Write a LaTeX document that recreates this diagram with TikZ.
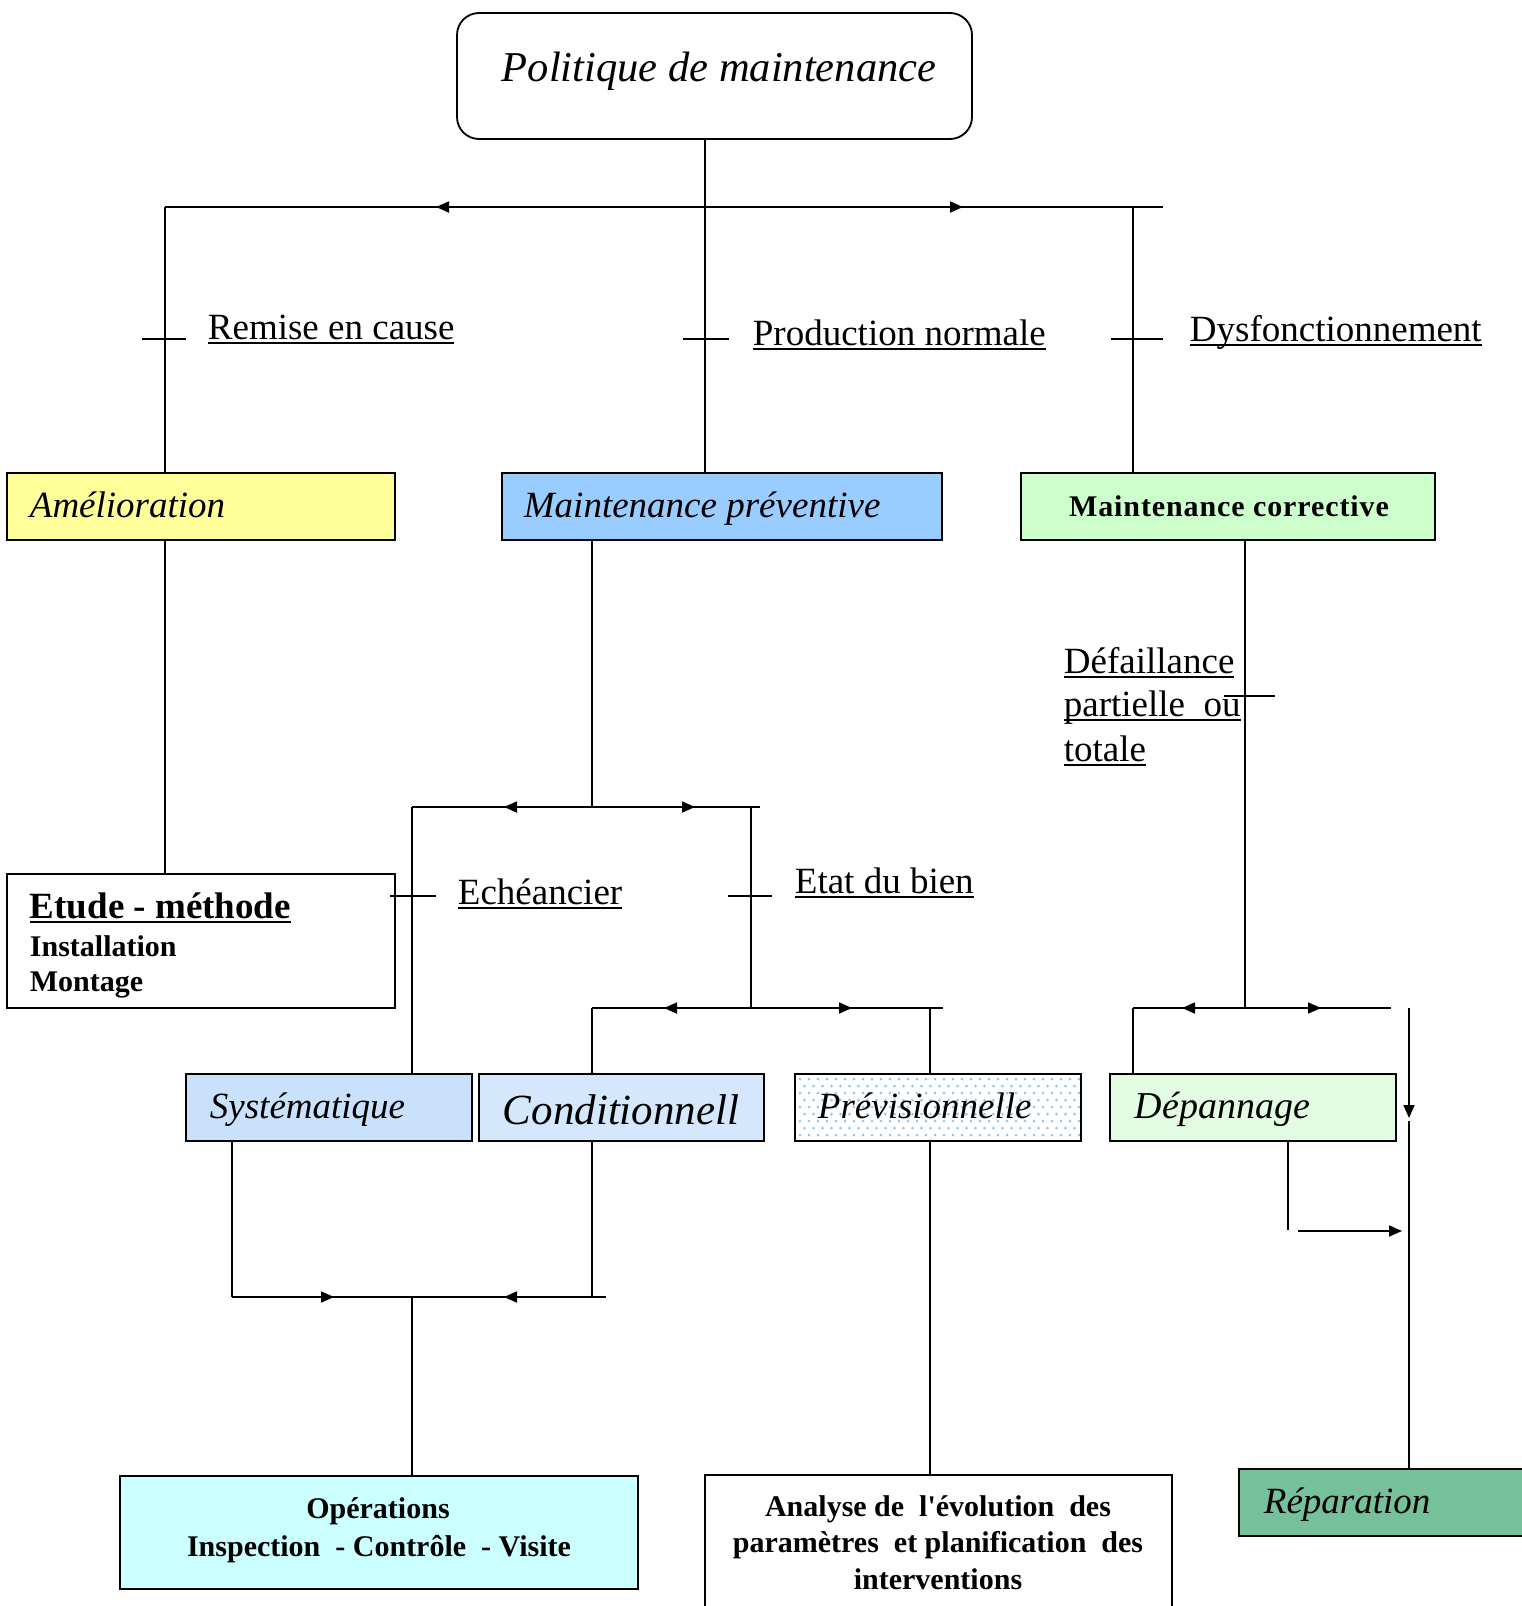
\documentclass[tikz,border=0pt]{standalone}
\usepackage{fontspec}
\setmainfont{Liberation Serif}
\usetikzlibrary{arrows.meta}
\definecolor{amelc}{HTML}{FFFF99}
\definecolor{prevc}{HTML}{99CCFF}
\definecolor{corrc}{HTML}{CCFFCC}
\definecolor{sysc}{HTML}{C9E1FA}
\definecolor{condc}{HTML}{D4E7FC}
\definecolor{dotc}{HTML}{94C4F0}
\definecolor{depc}{HTML}{E2FCE2}
\definecolor{operc}{HTML}{CCFFFF}
\definecolor{repc}{HTML}{76C09C}
\newcommand\myul[1]{\setbox0\hbox{#1}\rlap{\rule[-0.14em]{\wd0}{0.055em}}\box0}
\begin{document}
\begin{tikzpicture}[x=1pt,y=-1pt,line width=1.8pt,
  box/.style={draw,line width=1.8pt,inner sep=0pt},
  lbl/.style={anchor=base west,inner sep=0pt,font=\fontsize{37}{44}\selectfont},
  itl/.style={anchor=base west,inner sep=0pt,font=\fontsize{37}{44}\selectfont\itshape},
  bld/.style={inner sep=0pt,font=\fontsize{30}{37}\selectfont\bfseries},
  tip/.style={-{Triangle[length=13pt,width=11pt]}}]
\useasboundingbox (0,0) rectangle (1522,1606);
% boxes
\draw[box,rounded corners=22pt] (457,13) rectangle (972,139);
\node (top) at (714.5,76) [minimum width=515pt,minimum height=126pt] {};
\node[anchor=base west,inner sep=0pt,font=\fontsize{42.5}{50}\selectfont\itshape] (toptx) at (501,81) {Politique de maintenance};

\draw[box,fill=amelc] (7,473) rectangle (395,540);
\node (amel) at (201,506.5) [minimum width=388pt,minimum height=67pt] {};
\node[itl] (ameltx) at (29,517) {Amélioration};

\draw[box,fill=prevc] (502,473) rectangle (942,540);
\node (prev) at (722,506.5) [minimum width=440pt,minimum height=67pt] {};
\node[itl] (prevtx) at (523,517) {Maintenance préventive};

\draw[box,fill=corrc] (1021,473) rectangle (1435,540);
\node (corr) at (1228,506.5) [minimum width=414pt,minimum height=67pt] {};
\node[bld,anchor=base] (corrtx) at (1229,516) {\addfontfeature{LetterSpace=3}Maintenance corrective};

\draw[box,fill=white] (7,874) rectangle (395,1008);
\node (etude) at (201,941) [minimum width=388pt,minimum height=134pt] {};
\node[anchor=base west,inner sep=0pt,font=\fontsize{37}{44}\selectfont\bfseries] (etudetx) at (29,918) {\myul{Etude - méthode}};
\node[bld,anchor=base west] (inst) at (29,956) {Installation};
\node[bld,anchor=base west] (mont) at (29,991) {Montage};

\draw[box,fill=sysc] (186,1074) rectangle (472,1141);
\node (sys) at (329,1107.5) [minimum width=286pt,minimum height=67pt] {};
\node[itl] (systx) at (209,1118) {Systématique};

\draw[box,fill=condc] (479,1074) rectangle (764,1141);
\node (cond) at (621.5,1107.5) [minimum width=285pt,minimum height=67pt] {};
\node[itl,font=\fontsize{43}{50}\selectfont\itshape] (condtx) at (502,1124) {Conditionnell};

\begin{scope}
\clip (795,1074) rectangle (1081,1141);
\fill[white] (795,1074) rectangle (1081,1141);
\foreach \r in {0,...,9}{
  \pgfmathsetmacro\yy{1079+7*\r}
  \pgfmathsetmacro\off{mod(\r,2)*4.5}
  \foreach \c in {0,...,32}{
    \fill[dotc] (800+\off+9*\c,\yy) circle (1.5pt);
  }
}
\end{scope}
\draw[box] (795,1074) rectangle (1081,1141);
\node (previ) at (938,1107.5) [minimum width=286pt,minimum height=67pt] {};
\node[itl] (previtx) at (817,1118) {Prévisionnelle};

\draw[box,fill=depc] (1110,1074) rectangle (1396,1141);
\node (depan) at (1253,1107.5) [minimum width=286pt,minimum height=67pt] {};
\node[itl,font=\fontsize{38}{44}\selectfont\itshape] (depantx) at (1134,1118) {Dépannage};

\draw[box,fill=operc] (120,1476) rectangle (638,1589);
\node (oper) at (379,1532.5) [minimum width=518pt,minimum height=113pt] {};
\node[bld,anchor=base] (opert1) at (378,1518) {Opérations};
\node[bld,anchor=base] (opert2) at (379,1556) {Inspection\ \ -\ Contrôle\ \ -\ Visite};

\draw[box,fill=white] (705,1475) rectangle (1172,1640);
\node (anal) at (938.5,1557) [minimum width=467pt,minimum height=165pt] {};
\node[bld,anchor=base] (analt1) at (938,1516) {Analyse\ de\ \ l\textquotesingle évolution\ \ des};
\node[bld,anchor=base] (analt2) at (938,1552) {paramètres\ \ et\ planification\ \ des};
\node[bld,anchor=base] (analt3) at (938,1589) {interventions};

\draw[box,fill=repc] (1239,1469) rectangle (1540,1536);
\node (repar) at (1389.5,1502.5) [minimum width=301pt,minimum height=67pt] {};
\node[itl] (repartx) at (1263,1513) {Réparation};

% labels
\node[lbl] (remise) at (207,339) {\myul{Remise en cause}};
\node[lbl] (prodn) at (752,345) {\myul{Production normale}};
\node[lbl] (dysf) at (1189,341) {\myul{Dysfonctionnement}};
\node[lbl] (eche) at (457,904) {\myul{Echéancier}};
\node[lbl] (etat) at (794,893) {\myul{Etat du bien}};
\node[lbl] (def1) at (1063,673) {\myul{Défaillance}};
\node[lbl] (def2) at (1063,716) {\myul{partielle\ \ ou}};
\node[lbl] (def3) at (1063,761) {\myul{totale}};

% coordinates
\coordinate (j0) at (705,207);
\coordinate (hL) at (165,207);
\coordinate (hR) at (1163,207);
\coordinate (hRv) at (1133,207);
\coordinate (aL) at (436,207);
\coordinate (aR) at (963,207);

\coordinate (j1) at (592,807);
\coordinate (j1L) at (412,807);
\coordinate (j1R) at (760,807);
\coordinate (j1Rv) at (751,807);

\coordinate (j2) at (751,1008);
\coordinate (j2L) at (592,1008);
\coordinate (j2R) at (943,1008);
\coordinate (j2Rv) at (930,1008);

\coordinate (j3L) at (232,1297);
\coordinate (j3R) at (606,1297);
\coordinate (j3C) at (592,1297);
\coordinate (j3M) at (412,1297);

\coordinate (j4) at (1245,1008);
\coordinate (j4L) at (1133,1008);
\coordinate (j4R) at (1391,1008);
\coordinate (v5a) at (1409,1008);
\coordinate (v5b) at (1409,1118);
\coordinate (v5c) at (1409,1121);
\coordinate (d1) at (1288,1230);
\coordinate (d2) at (1298,1231);
\coordinate (d3) at (1402,1231);

% top level
\draw (j0 |- top.south) -- (j0 |- prev.north);
\draw (hL) -- (hR);
\draw (hL) -- (hL |- amel.north);
\draw (hRv) -- (hRv |- corr.north);
\draw[tip] (j0) -- (aL);
\draw[tip] (j0) -- (aR);
\draw (142,339) -- (186,339);
\draw (683,339) -- (729,339);
\draw (1111,339) -- (1163,339);

% amelioration
\draw (hL |- amel.south) -- (hL |- etude.north);

% preventive
\draw (j1 |- prev.south) -- (j1);
\draw (j1L) -- (j1R);
\draw[tip] (j1) -- (504,807);
\draw[tip] (j1) -- (695,807);
\draw (j1L) -- (j1L |- sys.north);
\draw (390,896) -- (436,896);
\draw (j1Rv) -- (j2);
\draw (728,896) -- (772,896);
\draw (j2L) -- (j2R);
\draw[tip] (j2) -- (664,1008);
\draw[tip] (j2) -- (852,1008);
\draw (j2L) -- (j2L |- cond.north);
\draw (j2Rv) -- (j2Rv |- previ.north);

\draw (j3L |- sys.south) -- (j3L);
\draw (j3C |- cond.south) -- (j3C);
\draw (j3L) -- (j3R);
\draw[tip] (j3L) -- (334,1297);
\draw[tip] (j3C) -- (504,1297);
\draw (j3M) -- (j3M |- oper.north);
\draw (j2Rv |- previ.south) -- (j2Rv |- anal.north);

% corrective
\draw (j4 |- corr.south) -- (j4);
\draw (1224,696) -- (1275,696);
\draw (j4L) -- (j4R);
\draw[tip] (j4) -- (1182,1008);
\draw[tip] (j4) -- (1321,1008);
\draw (j4L) -- (j4L |- depan.north);
\draw[tip] (v5a) -- (v5b);
\draw (v5c) -- (v5c |- repar.north);
\draw (d1 |- depan.south) -- (d1);
\draw[tip] (d2) -- (d3);
\end{tikzpicture}
\end{document}
